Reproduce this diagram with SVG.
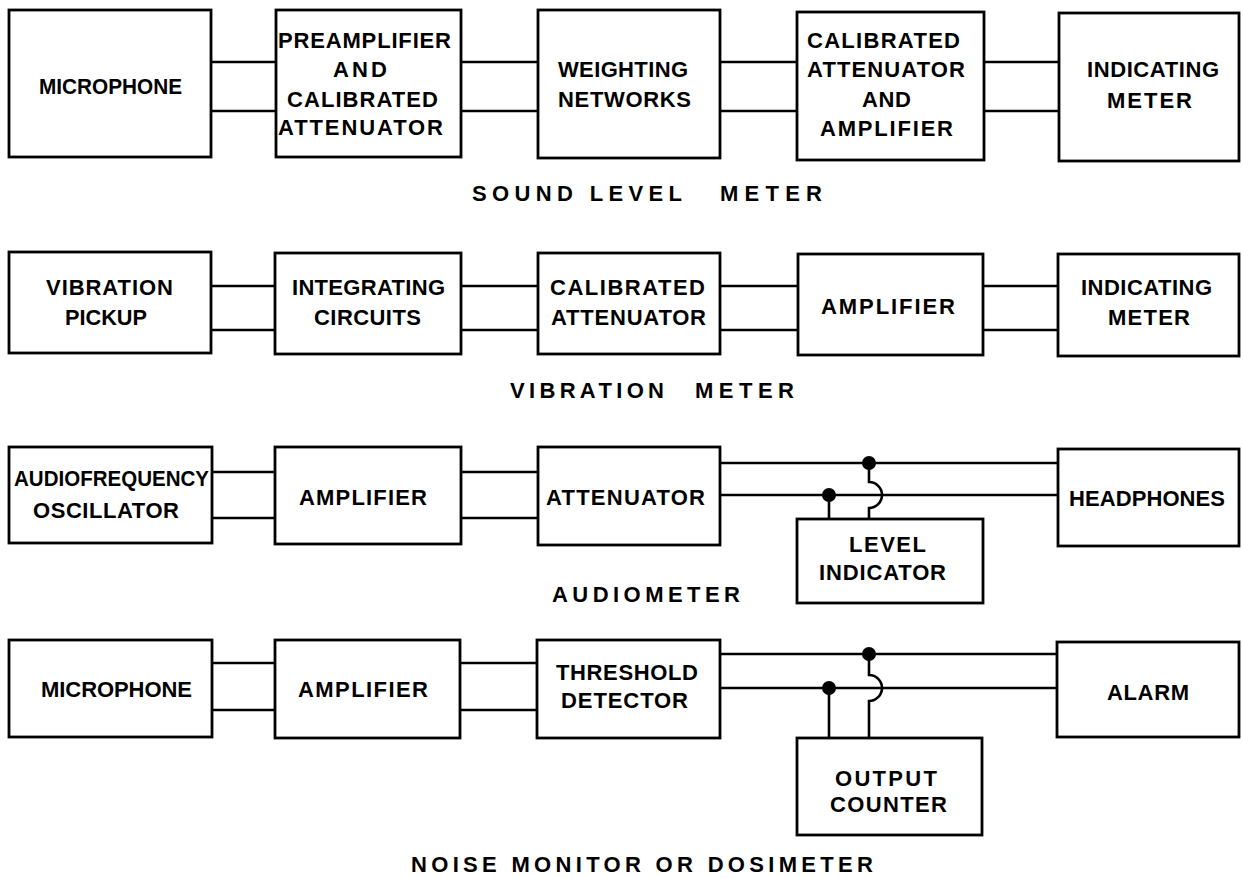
<svg xmlns="http://www.w3.org/2000/svg" width="1243" height="878" viewBox="0 0 1243 878">
<style>
rect.b{fill:#fff;stroke:#000;stroke-width:2.8}
.w{fill:none;stroke:#000;stroke-width:2.6}
.d{fill:#000}
text{font-family:"Liberation Sans",Arial,sans-serif;font-weight:bold;fill:#000}
.t{font-size:22px}
.c{font-size:22px}
</style>
<rect width="1243" height="878" fill="#fff"/>
<g id="connectors">
<path class="w" d="M211 62H276M211 111H276M461 62H538M461 111H538M720 62H797M720 111H797M984 62H1059M984 111H1059"/>
<path class="w" d="M211 286H275M211 330H275M461 286H538M461 330H538M720 286H798M720 330H798M983 286H1058M983 330H1058"/>
<path class="w" d="M212 472H275M212 518H275M461 472H538M461 518H538M720 463H1058M720 495H1058"/>
<path class="w" d="M869 463V482A13 13 0 0 1 869 508V519M829 495V519"/>
<circle class="d" cx="869" cy="463" r="7"/><circle class="d" cx="829" cy="495" r="7"/>
<path class="w" d="M212 663H275M212 710H275M460 663H537M460 710H537M720 654H1057M720 688H1057"/>
<path class="w" d="M869 654V675A13 13 0 0 1 869 701V738M829 688V738"/>
<circle class="d" cx="869" cy="654" r="7"/><circle class="d" cx="829" cy="688" r="7"/>
</g>
<g id="slm-microphone"><rect class="b" x="9" y="10" width="202" height="147"/><text class="t" x="39" y="94" textLength="143" lengthAdjust="spacingAndGlyphs">MICROPHONE</text></g>
<g id="slm-preamp"><rect class="b" x="276" y="10" width="185" height="147"/>
<text class="t" x="278" y="48" textLength="173" lengthAdjust="spacing">PREAMPLIFIER</text>
<text class="t" x="333" y="77" textLength="54" lengthAdjust="spacing">AND</text>
<text class="t" x="287" y="107" textLength="151" lengthAdjust="spacing">CALIBRATED</text>
<text class="t" x="278" y="135" textLength="165" lengthAdjust="spacing">ATTENUATOR</text></g>
<g id="slm-weighting"><rect class="b" x="538" y="10" width="182" height="148"/>
<text class="t" x="558" y="77" textLength="130" lengthAdjust="spacing">WEIGHTING</text>
<text class="t" x="558" y="107" textLength="133" lengthAdjust="spacing">NETWORKS</text></g>
<g id="slm-calatt"><rect class="b" x="797" y="12" width="187" height="148"/>
<text class="t" x="807" y="48" textLength="153" lengthAdjust="spacing">CALIBRATED</text>
<text class="t" x="807" y="77" textLength="158" lengthAdjust="spacing">ATTENUATOR</text>
<text class="t" x="862" y="107" textLength="49" lengthAdjust="spacing">AND</text>
<text class="t" x="820" y="136" textLength="133" lengthAdjust="spacing">AMPLIFIER</text></g>
<g id="slm-meter"><rect class="b" x="1059" y="13" width="180" height="148"/>
<text class="t" x="1087" y="77" textLength="132" lengthAdjust="spacing">INDICATING</text>
<text class="t" x="1107" y="108" textLength="85" lengthAdjust="spacing">METER</text></g>

<g id="vm-pickup"><rect class="b" x="9" y="252" width="202" height="101"/>
<text class="t" x="46" y="295" textLength="127" lengthAdjust="spacing">VIBRATION</text>
<text class="t" x="65" y="325" textLength="82" lengthAdjust="spacingAndGlyphs">PICKUP</text></g>
<g id="vm-integrating"><rect class="b" x="275" y="253" width="186" height="101"/>
<text class="t" x="292" y="295" textLength="153" lengthAdjust="spacing">INTEGRATING</text>
<text class="t" x="314" y="325" textLength="107" lengthAdjust="spacing">CIRCUITS</text></g>
<g id="vm-calatt"><rect class="b" x="538" y="253" width="182" height="101"/>
<text class="t" x="550" y="295" textLength="155" lengthAdjust="spacing">CALIBRATED</text>
<text class="t" x="551" y="325" textLength="155" lengthAdjust="spacing">ATTENUATOR</text></g>
<g id="vm-amplifier"><rect class="b" x="798" y="254" width="185" height="101"/>
<text class="t" x="821" y="314" textLength="134" lengthAdjust="spacing">AMPLIFIER</text></g>
<g id="vm-meter"><rect class="b" x="1058" y="254" width="181" height="102"/>
<text class="t" x="1081" y="295" textLength="131" lengthAdjust="spacing">INDICATING</text>
<text class="t" x="1108" y="325" textLength="82" lengthAdjust="spacing">METER</text></g>

<g id="am-oscillator"><rect class="b" x="9" y="447" width="203" height="96"/>
<text class="t" x="14" y="486" textLength="195" lengthAdjust="spacingAndGlyphs">AUDIOFREQUENCY</text>
<text class="t" x="33" y="518" textLength="146" lengthAdjust="spacing">OSCILLATOR</text></g>
<g id="am-amplifier"><rect class="b" x="275" y="447" width="186" height="97"/>
<text class="t" x="299" y="505" textLength="128" lengthAdjust="spacing">AMPLIFIER</text></g>
<g id="am-attenuator"><rect class="b" x="538" y="447" width="182" height="98"/>
<text class="t" x="546" y="505" textLength="159" lengthAdjust="spacing">ATTENUATOR</text></g>
<g id="am-level"><rect class="b" x="797" y="519" width="186" height="84"/>
<text class="t" x="849" y="552" textLength="77" lengthAdjust="spacing">LEVEL</text>
<text class="t" x="819" y="580" textLength="127" lengthAdjust="spacing">INDICATOR</text></g>
<g id="am-headphones"><rect class="b" x="1058" y="449" width="181" height="97"/>
<text class="t" x="1069" y="506" textLength="156" lengthAdjust="spacing">HEADPHONES</text></g>

<g id="nm-microphone"><rect class="b" x="9" y="640" width="203" height="97"/>
<text class="t" x="41" y="697" textLength="151" lengthAdjust="spacing">MICROPHONE</text></g>
<g id="nm-amplifier"><rect class="b" x="275" y="640" width="185" height="98"/>
<text class="t" x="298" y="697" textLength="130" lengthAdjust="spacing">AMPLIFIER</text></g>
<g id="nm-threshold"><rect class="b" x="537" y="640" width="183" height="98"/>
<text class="t" x="556" y="680" textLength="142" lengthAdjust="spacing">THRESHOLD</text>
<text class="t" x="561" y="708" textLength="127" lengthAdjust="spacing">DETECTOR</text></g>
<g id="nm-counter"><rect class="b" x="797" y="738" width="185" height="97"/>
<text class="t" x="835" y="786" textLength="102" lengthAdjust="spacing">OUTPUT</text>
<text class="t" x="830" y="812" textLength="117" lengthAdjust="spacing">COUNTER</text></g>
<g id="nm-alarm"><rect class="b" x="1057" y="642" width="182" height="95"/>
<text class="t" x="1107" y="700" textLength="82" lengthAdjust="spacing">ALARM</text></g>

<g id="captions">
<text class="c" x="472" y="201" textLength="210" lengthAdjust="spacing">SOUND LEVEL</text>
<text class="c" x="720" y="201" textLength="102" lengthAdjust="spacing">METER</text>
<text class="c" x="510" y="398" textLength="154" lengthAdjust="spacing">VIBRATION</text>
<text class="c" x="695" y="398" textLength="99" lengthAdjust="spacing">METER</text>
<text class="c" x="552" y="602" textLength="188" lengthAdjust="spacing">AUDIOMETER</text>
<text class="c" x="411" y="872" textLength="462" lengthAdjust="spacing">NOISE MONITOR OR DOSIMETER</text>
</g>
</svg>
